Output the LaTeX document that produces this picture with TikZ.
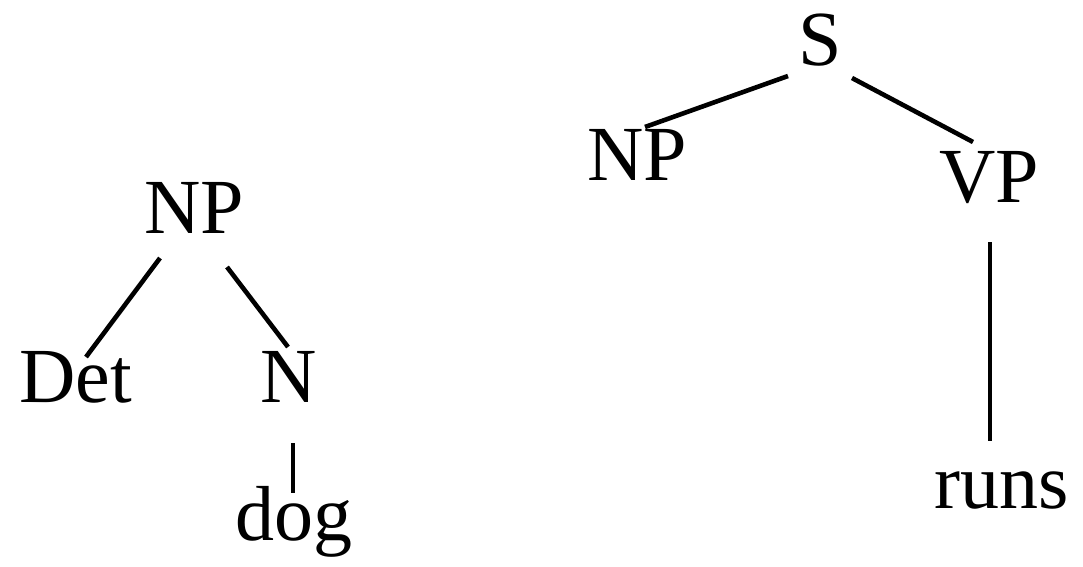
\documentclass[tikz,border=0pt]{standalone}
\usepackage{fontspec}
\setmainfont{Liberation Serif}
\begin{document}
\begin{tikzpicture}[x=1pt,y=-1pt,
  lbl/.style={anchor=base,inner sep=0pt,font=\fontsize{78}{80}\selectfont},
  edge/.style={line width=4.6pt}]
\useasboundingbox (0,0) rectangle (1083,566);
% left tree
\node[lbl] (np1) at (194,233) {NP};
\node[lbl] (det) at (75.5,402) {Det};
\node[lbl] (n) at (288.5,402) {N};
\node[lbl] (dog) at (294,540) {dog};
\coordinate (np1a) at (160,258);
\coordinate (deta) at (86,357);
\coordinate (np1b) at (227,267);
\coordinate (na) at (288,347);
\coordinate (nb) at (293,443);
\coordinate (doga) at (293,493);
\draw[edge] (np1a) -- (deta);
\draw[edge] (np1b) -- (na);
\draw[edge] (nb) -- (doga);
% right tree
\node[lbl] (s) at (820,65) {S};
\node[lbl] (np2) at (637,180) {NP};
\node[lbl] (vp) at (989,202) {VP};
\node[lbl] (runs) at (1002,508) {runs};
\coordinate (sa) at (788,76);
\coordinate (np2a) at (645,127);
\coordinate (sb) at (852,78);
\coordinate (vpa) at (973,142);
\coordinate (vpb) at (990,242);
\coordinate (runsa) at (990,441);
\draw[edge] (sa) -- (np2a);
\draw[edge] (sb) -- (vpa);
\draw[edge] (vpb) -- (runsa);
\end{tikzpicture}
\end{document}
